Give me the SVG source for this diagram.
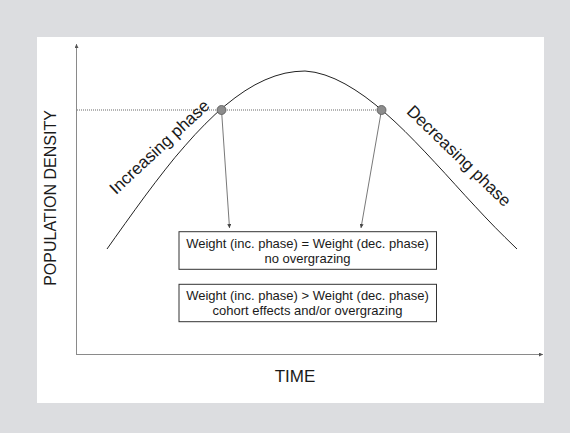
<svg xmlns="http://www.w3.org/2000/svg" width="570" height="433" viewBox="0 0 570 433">
<style>
.t{font-family:"Liberation Sans",Arial,sans-serif;fill:#1a1a1a}
.box{fill:#fff;stroke:#333;stroke-width:1}
.axis{stroke:#8a8a8a;stroke-width:1;fill:none}
.conn{stroke:#555;stroke-width:0.8;fill:none}
</style>
<defs>
<marker id="ah" viewBox="0 0 10 10" refX="10" refY="5" markerWidth="4" markerHeight="4" markerUnits="userSpaceOnUse" orient="auto">
<path d="M0,0 L10,5 L0,10 z" fill="#444"/>
</marker>
<marker id="axh" viewBox="0 0 10 10" refX="10" refY="5" markerWidth="5" markerHeight="4" markerUnits="userSpaceOnUse" orient="auto">
<path d="M0,0 L10,5 L0,10 z" fill="#555"/>
</marker>
</defs>
<rect x="0" y="0" width="570" height="433" fill="#dcdde0"/>
<rect x="37" y="37" width="507" height="366" fill="#fff"/>
<g id="axes">
<line class="axis" x1="76.5" y1="355" x2="76.5" y2="44" marker-end="url(#axh)"/>
<line class="axis" x1="76" y1="354.5" x2="543" y2="354.5" marker-end="url(#axh)"/>
<text class="t" font-size="16" text-anchor="middle" transform="translate(55.5,198) rotate(-90)">POPULATION DENSITY</text>
<text class="t" font-size="17" text-anchor="middle" x="295" y="381.5">TIME</text>
</g>
<g id="threshold">
<line x1="77" y1="110" x2="381" y2="110" stroke="#9a9a9a" stroke-width="1.6" stroke-dasharray="1 1"/>
</g>
<g id="curve">
<path fill="none" stroke="#222" stroke-width="1" d="M107,249 L115,237.7 L125,223.7 L135,209.8 L145,196.1 L155,182.8 L165,169.9 L175,157.4 L185,145.8 L195,134.6 L205,124.2 L215,114.5 L225,105.7 L235,97.8 L245,90.8 L255,84.8 L265,79.9 L275,76 L285,73.2 L295,71.6 L305,71 L315,72.3 L325,75 L335,78.9 L345,83.9 L355,89.9 L365,96.7 L375,104.4 L385,112.8 L395,121.8 L405,131.4 L415,141.5 L425,151.9 L435,162.6 L445,173.4 L455,184.4 L465,195.4 L475,206.2 L485,216.9 L495,227.3 L505,237.3 L517,249"/>
<text class="t" font-size="17" text-anchor="middle" transform="translate(163.3,151.1) rotate(-43)">Increasing phase</text>
<text class="t" font-size="17" text-anchor="middle" transform="translate(455,160) rotate(44)">Decreasing phase</text>
</g>
<g id="connectors">
<line class="conn" x1="221.5" y1="110" x2="229.5" y2="228" marker-end="url(#ah)"/>
<line class="conn" x1="381.5" y1="110" x2="361" y2="228" marker-end="url(#ah)"/>
</g>
<g id="dot-inc">
<circle cx="221.5" cy="110" r="4.5" fill="#8c8c8c" stroke="#555" stroke-width="0.8"/>
</g>
<g id="dot-dec">
<circle cx="381.5" cy="110" r="4.5" fill="#8c8c8c" stroke="#555" stroke-width="0.8"/>
</g>
<g id="box-equal">
<rect class="box" x="179" y="231.7" width="257.5" height="37.6"/>
<text class="t" font-size="13" text-anchor="middle" x="307.5" y="247.5">Weight (inc. phase) = Weight (dec. phase)</text>
<text class="t" font-size="13" text-anchor="middle" x="307.5" y="262.5">no overgrazing</text>
</g>
<g id="box-greater">
<rect class="box" x="179" y="284.3" width="257.5" height="37.4"/>
<text class="t" font-size="13" text-anchor="middle" x="307.5" y="300">Weight (inc. phase) &gt; Weight (dec. phase)</text>
<text class="t" font-size="13" text-anchor="middle" x="307.5" y="315">cohort effects and/or overgrazing</text>
</g>
</svg>
